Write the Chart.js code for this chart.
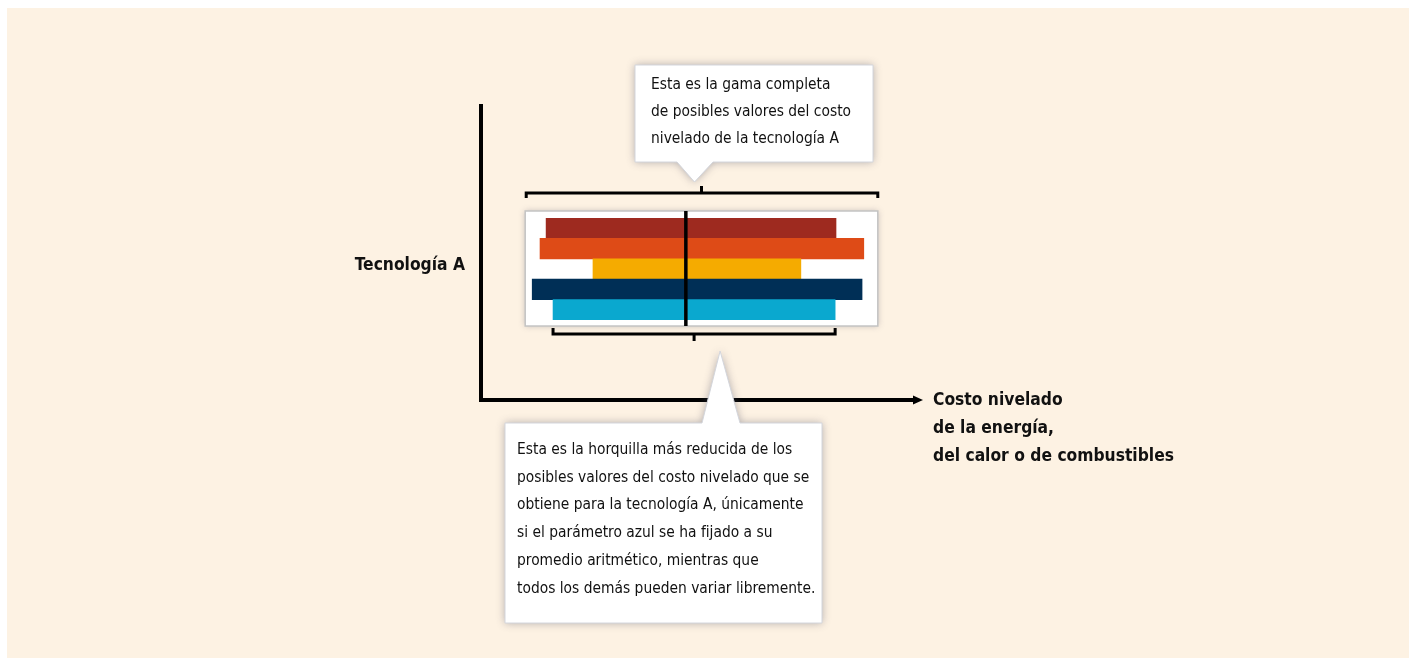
<!DOCTYPE html>
<html lang="es">
  <head>
    <meta charset="utf-8" />
    <title>Costo nivelado - Tecnología A</title>
    <style>
      * {
        margin: 0;
        padding: 0;
      }
      body {
        background: white;
      }
    </style>
  </head>
  <body>
    <canvas id="myChart" width="1409" height="658"></canvas>

    <script src="https://cdn.jsdelivr.net/npm/chart.js"></script>

    <script>
      // data block
      const parameters = [
        "Parámetro rojo",
        "Parámetro naranja",
        "Parámetro amarillo",
        "Parámetro azul oscuro",
        "Parámetro azul",
      ];
      const lowValues = [15.0, 13.6, 25.8, 11.8, 16.6];
      const highValues = [81.8, 88.2, 73.7, 87.8, 81.6];
      const meanValue = 47.2;
      const barColors = ["#9e2a1f", "#de4b17", "#f5ab00", "#002f56", "#0aa8cf"];

      const topNote = [
        "Esta es la gama completa",
        "de posibles valores del costo",
        "nivelado de la tecnología A",
      ];
      const bottomNote = [
        "Esta es la horquilla más reducida de los",
        "posibles valores del costo nivelado que se",
        "obtiene para la tecnología A, únicamente",
        "si el parámetro azul se ha fijado a su",
        "promedio aritmético, mientras que",
        "todos los demás pueden variar libremente.",
      ];
      const yTitle = "Tecnología A";
      const xTitle = [
        "Costo nivelado",
        "de la energía,",
        "del calor o de combustibles",
      ];
      const fixedParam = 4; // the blue one

      const FONT = '"Liberation Sans Narrow", "DejaVu Sans Condensed", sans-serif';

      // callout: box with a triangular pointer
      const callout = (ctx, l, t, r, b, baseL, baseR, tipX, tipY, onTop) => {
        ctx.save();
        ctx.beginPath();
        if (onTop) {
          // pointer goes down from bottom edge
          ctx.moveTo(l, t);
          ctx.lineTo(r, t);
          ctx.lineTo(r, b);
          ctx.lineTo(baseR, b);
          ctx.lineTo(tipX, tipY);
          ctx.lineTo(baseL, b);
          ctx.lineTo(l, b);
        } else {
          // pointer goes up from top edge
          ctx.moveTo(l, t);
          ctx.lineTo(baseL, t);
          ctx.lineTo(tipX, tipY);
          ctx.lineTo(baseR, t);
          ctx.lineTo(r, t);
          ctx.lineTo(r, b);
          ctx.lineTo(l, b);
        }
        ctx.closePath();
        ctx.shadowColor = "rgba(80, 80, 100, 0.45)";
        ctx.shadowBlur = 9;
        ctx.fillStyle = "white";
        ctx.fill();
        ctx.shadowColor = "transparent";
        ctx.strokeStyle = "#d4d6dc";
        ctx.lineWidth = 1;
        ctx.stroke();
        ctx.restore();
      };

      // background + white panel behind bars
      const backdrop = {
        id: "backdrop",
        beforeDraw(chart) {
          const { ctx, width, height } = chart;
          ctx.save();
          ctx.fillStyle = "white";
          ctx.fillRect(0, 0, width, height);
          ctx.fillStyle = "#fdf2e3";
          ctx.fillRect(7, 8, width - 7, height - 8);
          ctx.restore();
        },
        beforeDatasetsDraw(chart) {
          const {
            ctx,
            chartArea: { top, bottom },
            scales: { x },
          } = chart;
          const boxL = x.getPixelForValue(Math.min(...lowValues)) - 7;
          const boxR = x.getPixelForValue(Math.max(...highValues)) + 14;
          ctx.save();
          ctx.shadowColor = "rgba(80, 80, 100, 0.35)";
          ctx.shadowBlur = 6;
          ctx.fillStyle = "white";
          ctx.fillRect(boxL, top - 7, boxR - boxL, bottom - top + 13);
          ctx.shadowColor = "transparent";
          ctx.strokeStyle = "#c4c4c4";
          ctx.lineWidth = 1.5;
          ctx.strokeRect(boxL, top - 7, boxR - boxL, bottom - top + 13);
          ctx.restore();
        },
      };

      // mean line, brackets, axes, notes
      const annotations = {
        id: "annotations",
        afterDatasetsDraw(chart) {
          const {
            ctx,
            chartArea: { top, bottom, left, right },
            scales: { x },
          } = chart;
          const boxL = x.getPixelForValue(Math.min(...lowValues)) - 7;
          const boxR = x.getPixelForValue(Math.max(...highValues)) + 14;
          const boxT = top - 7;
          const boxB = bottom + 6;

          ctx.save();
          ctx.strokeStyle = "black";
          ctx.fillStyle = "black";

          // mean line
          const mx = x.getPixelForValue(meanValue);
          ctx.lineWidth = 3.5;
          ctx.beginPath();
          ctx.moveTo(mx, boxT);
          ctx.lineTo(mx, boxB);
          ctx.stroke();

          // top bracket (full range)
          ctx.lineWidth = 3;
          const tb = boxT - 18;
          const tc = (boxL + boxR) / 2;
          ctx.beginPath();
          ctx.moveTo(boxL + 1, tb + 5);
          ctx.lineTo(boxL + 1, tb);
          ctx.lineTo(boxR, tb);
          ctx.lineTo(boxR, tb + 5);
          ctx.moveTo(tc, tb);
          ctx.lineTo(tc, tb - 7);
          ctx.stroke();

          // bottom bracket (fixed parameter)
          const bl = x.getPixelForValue(lowValues[fixedParam]);
          const br = x.getPixelForValue(highValues[fixedParam]);
          const bb = boxB + 8;
          const bc = (bl + br) / 2;
          ctx.beginPath();
          ctx.moveTo(bl, bb - 6);
          ctx.lineTo(bl, bb);
          ctx.lineTo(br, bb);
          ctx.lineTo(br, bb - 6);
          ctx.moveTo(bc, bb);
          ctx.lineTo(bc, bb + 7);
          ctx.stroke();

          // axes
          const axY = bottom + 80;
          ctx.lineWidth = 4;
          ctx.beginPath();
          ctx.moveTo(left, top - 114);
          ctx.lineTo(left, axY);
          ctx.lineTo(right, axY);
          ctx.stroke();
          ctx.beginPath();
          ctx.moveTo(right - 2, axY - 4.5);
          ctx.lineTo(right + 8, axY);
          ctx.lineTo(right - 2, axY + 4.5);
          ctx.closePath();
          ctx.fill();

          // axis titles
          ctx.font = "bold 17.3px " + FONT;
          ctx.textBaseline = "middle";
          ctx.textAlign = "right";
          ctx.fillStyle = "#111";
          ctx.fillText(yTitle, left - 16, (top + bottom) / 2 - 3);
          ctx.textAlign = "left";
          xTitle.forEach((line, i) => {
            ctx.fillText(line, right + 18, axY + 1 + i * 28);
          });
          ctx.restore();

          // callouts
          callout(ctx, 635, 65, 873, 162, 677, 713, tc - 7, tb - 11, true);
          callout(ctx, 505, 423, 822, 623, 702, 740, bc + 26, bb + 17, false);

          ctx.save();
          ctx.fillStyle = "#111";
          ctx.font = "15.4px " + FONT;
          ctx.textBaseline = "middle";
          ctx.textAlign = "left";
          topNote.forEach((line, i) => {
            ctx.fillText(line, 651, 85 + i * 27);
          });
          bottomNote.forEach((line, i) => {
            ctx.fillText(line, 517, 450 + i * 27.7);
          });
          ctx.restore();
        },
      };

      // config block
      const data = {
        labels: parameters,
        datasets: [
          {
            data: lowValues.map((v, i) => [v, highValues[i]]),
            backgroundColor: barColors,
            borderWidth: 0,
            barPercentage: 1,
            categoryPercentage: 1,
          },
        ],
      };

      const config = {
        type: "bar",
        data: data,
        options: {
          indexAxis: "y",
          responsive: false,
          animation: false,
          layout: {
            padding: { left: 481, right: 494, top: 218, bottom: 338 },
          },
          scales: {
            x: { display: false, min: 0, max: 100 },
            y: { display: false },
          },
          plugins: {
            legend: { display: false },
            tooltip: { enabled: false },
          },
        },
        plugins: [backdrop, annotations],
      };

      const myChart = new Chart(document.getElementById("myChart"), config);
    </script>
  </body>
</html>
